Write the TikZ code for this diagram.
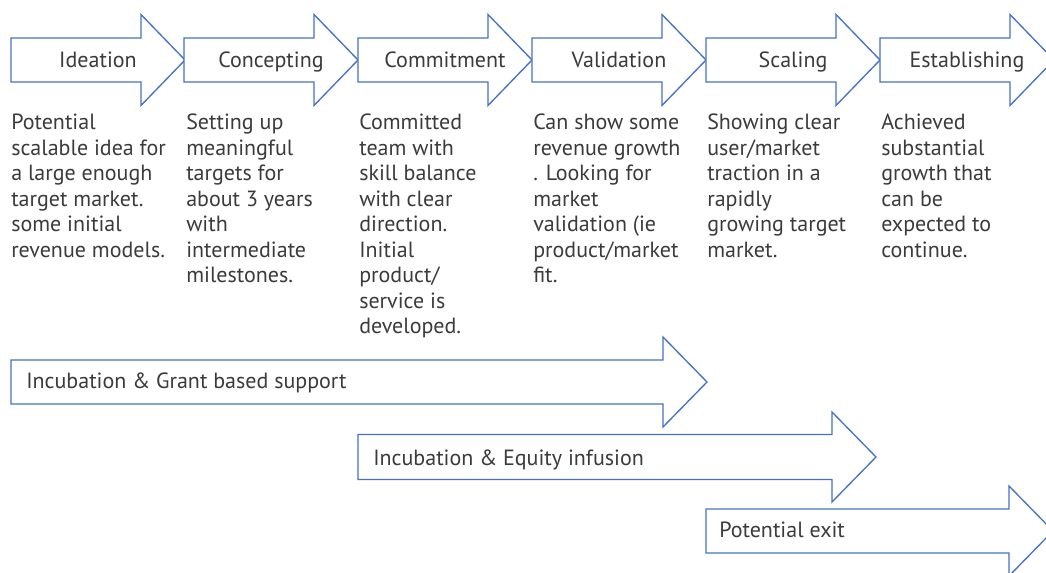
\documentclass[tikz,border=0pt]{standalone}
\usepackage{fontspec}
\setmainfont{PT Sans}
\definecolor{stageblue}{HTML}{4472C4}
\definecolor{stagetext}{HTML}{3B3B3B}
\tikzset{
  stagearrow/.style={draw=stageblue,line width=1pt,fill=white,line join=miter},
  stagelabel/.style={text=stagetext,font=\fontsize{16.5}{19.1}\selectfont,inner sep=0},
  stagedesc/.style={stagelabel,align=left,anchor=north west}
}
% left end, tip, centre y, half body, half head
\newcommand\bigarrow[5]{%
  \draw[stagearrow] (#1,#3-#4) -- (#2-44,#3-#4) -- (#2-44,#3-#5) -- (#2,#3)
    -- (#2-44,#3+#5) -- (#2-44,#3+#4) -- (#1,#3+#4) -- cycle;}

\begin{document}
\begin{tikzpicture}[x=0.75pt,y=-0.75pt]
  \useasboundingbox (0,0) rectangle (1046,573);
  \clip (0,0) rectangle (1046,573);
  \foreach \x/\name/\txt in {11/ideation/Ideation,184/concepting/Concepting,
      358/commitment/Commitment,532/validation/Validation,
      706/scaling/Scaling,880/establishing/Establishing}{
    \bigarrow{\x}{\x+174}{60}{22}{45.5}
    \node[stagelabel,anchor=base] (\name) at (\x+87,68) {\txt};
  }
  \node[stagedesc] (ideationtxt) at (11,114) {Potential\\scalable idea for\\a large enough\\
    target market.\\some initial\\revenue models.};
  \node[stagedesc] (conceptingtxt) at (186,114) {Setting up\\meaningful\\targets for\\
    about 3 years\\with\\intermediate\\milestones.};
  \node[stagedesc] (commitmenttxt) at (359,114) {Committed\\team with\\skill balance\\
    with clear\\direction.\\Initial\\product/\\service is\\developed.};
  \node[stagedesc] (validationtxt) at (533,114) {Can show some\\revenue growth\\. Looking for\\
    market\\validation (ie\\product/market\\fit.};
  \node[stagedesc] (scalingtxt) at (707,114) {Showing clear\\user/market\\traction in a\\
    rapidly\\growing target\\market.};
  \node[stagedesc] (establishingtxt) at (881,114) {Achieved\\substantial\\growth that\\
    can be\\expected to\\continue.};
  \bigarrow{11}{707}{382}{22}{45}
  \node[stagelabel,anchor=base west] (grant) at (26,389) {Incubation \& Grant based support};
  \bigarrow{358}{876}{457}{22.5}{45}
  \node[stagelabel,anchor=base west] (equity) at (373,465) {Incubation \& Equity infusion};
  \bigarrow{706}{1053}{531}{22}{45}
  \node[stagelabel,anchor=base west] (exit) at (719,537) {Potential exit};
\end{tikzpicture}
\end{document}
